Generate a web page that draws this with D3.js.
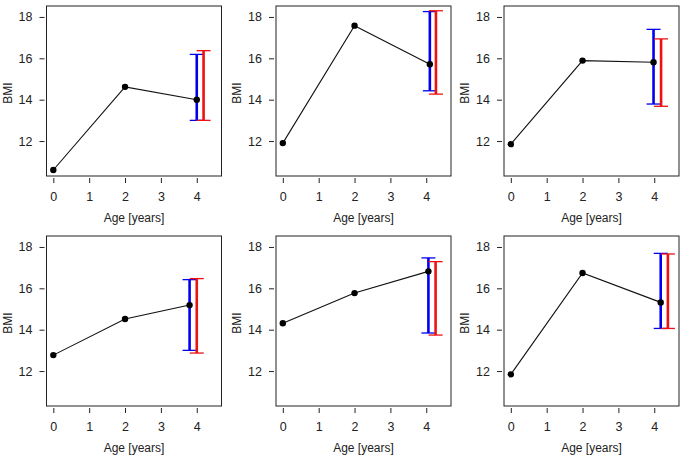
<!DOCTYPE html>
<html><head><meta charset="utf-8">
<script src="https://cdn.jsdelivr.net/npm/d3@7"></script>
<style>body{margin:0;background:#fff}svg{display:block}text{font-family:"Liberation Sans",Arial,Helvetica,sans-serif}</style>
</head><body><svg id="c" width="685" height="461"></svg>
<script>
// Data per panel
const xTicks = [0, 1, 2, 3, 4];
const yTicks = [12, 14, 16, 18];
const xLabel = "Age [years]";
const yLabel = "BMI";
const pointAges = [
  [0, 2, 4.0], [0, 2, 4.1], [0, 2, 3.98],
  [0, 2, 3.8], [0, 2, 4.06], [0, 2, 4.18]
];
const pointBMI = [
  [10.6, 14.62, 14.0], [11.9, 17.58, 15.71], [11.85, 15.89, 15.81],
  [12.77, 14.52, 15.19], [14.31, 15.77, 16.82], [11.84, 16.74, 15.32]
];
const blueLow  = [13.0, 14.43, 13.79, 13.0, 13.84, 14.06];
const blueHigh = [16.19, 18.26, 17.4, 16.42, 17.47, 17.69];
const redAge   = [4.19, 4.27, 4.19, 4.0, 4.26, 4.38];
const redLow   = [13.0, 14.27, 13.68, 12.87, 13.74, 14.06];
const redHigh  = [16.37, 18.3, 16.94, 16.47, 17.29, 17.66];

const svg = d3.select("#c");
const colLeft = [46.5, 276, 504];
const rowTop = [6, 236];
const W = 175, H = 170;

pointAges.forEach((ages, i) => {
  const left = colLeft[i % 3], top = rowTop[Math.floor(i / 3)];
  const x = d3.scaleLinear().domain([-0.19, 4.69]).range([left, left + W]);
  const y = d3.scaleLinear().domain([10.31, 18.53]).range([top + H, top]);
  const g = svg.append("g");

  g.append("rect").attr("x", left).attr("y", top).attr("width", W).attr("height", H)
    .attr("fill", "none").attr("stroke", "#222").attr("stroke-width", 1);

  const xa = g.append("g").attr("transform", `translate(0,${top + H + 2})`)
    .call(d3.axisBottom(x).tickValues(xTicks).tickSize(5).tickPadding(9).tickFormat(d3.format("d")));
  const ya = g.append("g").attr("transform", `translate(${left - 2},0)`)
    .call(d3.axisLeft(y).tickValues(yTicks).tickSize(5).tickPadding(7).tickFormat(d3.format("d")));
  [xa, ya].forEach(a => {
    a.select(".domain").remove();
    a.selectAll("line").attr("stroke", "#222");
    a.selectAll("text").attr("font-size", 12.5).attr("fill", "#222")
      .attr("font-family", '"Liberation Sans",Arial,sans-serif');
  });

  g.append("text").attr("x", left + W / 2).attr("y", top + H + 46)
    .attr("text-anchor", "middle").attr("font-size", 12).attr("fill", "#222").text(xLabel);
  g.append("text").attr("transform", `translate(${left - 35},${top + H / 2 + 2}) rotate(-90)`)
    .attr("text-anchor", "middle").attr("font-size", 12).attr("fill", "#222").text(yLabel);

  const pts = ages.map((a, j) => [a, pointBMI[i][j]]);
  g.append("path").datum(pts)
    .attr("d", d3.line().x(d => x(d[0])).y(d => y(d[1])))
    .attr("fill", "none").attr("stroke", "#111").attr("stroke-width", 1.1);

  // error bars
  const bars = [
    {a: ages[2], lo: blueLow[i], hi: blueHigh[i], c: "#0000ee"},
    {a: redAge[i], lo: redLow[i], hi: redHigh[i], c: "#ee1111"}
  ];
  bars.forEach(b => {
    const bx = x(b.a);
    g.append("line").attr("x1", bx).attr("x2", bx).attr("y1", y(b.lo)).attr("y2", y(b.hi))
      .attr("stroke", b.c).attr("stroke-width", 2.6);
    [b.lo, b.hi].forEach(v => {
      g.append("line").attr("x1", bx - 7).attr("x2", bx + 7).attr("y1", y(v)).attr("y2", y(v))
        .attr("stroke", b.c).attr("stroke-width", 1.3);
    });
  });

  g.selectAll("circle.p").data(pts).join("circle").attr("class", "p")
    .attr("cx", d => x(d[0])).attr("cy", d => y(d[1])).attr("r", 3.2).attr("fill", "#000");
});
</script></body></html>
